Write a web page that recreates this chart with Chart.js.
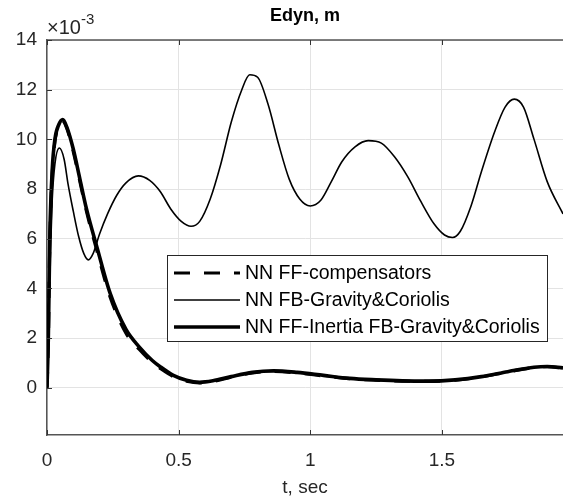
<!DOCTYPE html>
<html><head><meta charset="utf-8">
<script src="https://cdn.jsdelivr.net/npm/chart.js@4.4.1/dist/chart.umd.min.js"></script>
<style>html,body{margin:0;padding:0;background:#fff;}#wrap{width:563px;height:502px;position:relative;}</style>
</head><body><div id="wrap"><canvas id="c" width="563" height="502"></canvas></div>
<script>
// values in units of 1e-3 m
const tComp = [0,0.005,0.011,0.02,0.03,0.045,0.058,0.075,0.1,0.125,0.15,0.19,0.24,0.3,0.35,0.4,0.43,0.48,0.53,0.58,0.63,0.7,0.78,0.86,0.95,1.05,1.15,1.25,1.35,1.45,1.55,1.65,1.75,1.85,1.9,1.96];
const vComp = [0,1.8,6.0,8.6,9.9,10.55,10.75,10.45,9.5,8.3,7.1,5.5,3.65,2.2,1.55,1.02,0.78,0.45,0.27,0.2,0.26,0.43,0.6,0.66,0.6,0.48,0.37,0.31,0.27,0.26,0.31,0.44,0.64,0.82,0.85,0.79];

const tFB = [0,0.01,0.02,0.03,0.047,0.065,0.08,0.1,0.12,0.14,0.157,0.175,0.2,0.23,0.265,0.3,0.347,0.39,0.43,0.47,0.51,0.547,0.58,0.62,0.66,0.7,0.74,0.77,0.8,0.84,0.88,0.92,0.96,1.0,1.04,1.08,1.12,1.17,1.22,1.27,1.32,1.37,1.42,1.47,1.51,1.54,1.57,1.61,1.65,1.7,1.74,1.775,1.81,1.85,1.9,1.96];
const vFB = [0,4.5,7.6,9.0,9.65,9.2,8.2,7.1,6.1,5.4,5.15,5.4,6.2,7.0,7.75,8.25,8.53,8.35,7.9,7.2,6.7,6.5,6.7,7.6,9.0,10.7,12.0,12.6,12.5,11.4,9.8,8.4,7.6,7.32,7.55,8.3,9.1,9.7,9.95,9.85,9.3,8.5,7.5,6.6,6.15,6.05,6.3,7.3,8.7,10.3,11.3,11.62,11.3,10.0,8.3,7.0];

const tInertia = [0,0.005,0.011,0.02,0.03,0.045,0.06,0.075,0.1,0.125,0.15,0.19,0.24,0.3,0.35,0.4,0.43,0.48,0.53,0.58,0.63,0.7,0.78,0.86,0.95,1.05,1.15,1.25,1.35,1.45,1.55,1.65,1.75,1.85,1.9,1.96];
const vInertia = [0,2.0,6.2,8.8,10.0,10.6,10.8,10.5,9.6,8.4,7.2,5.65,3.8,2.35,1.65,1.1,0.85,0.5,0.3,0.22,0.28,0.45,0.62,0.68,0.62,0.5,0.38,0.32,0.28,0.27,0.32,0.45,0.65,0.83,0.86,0.8];

const xTicks = [0, 0.5, 1, 1.5];
const yTicks = [0, 2, 4, 6, 8, 10, 12, 14];
const labels = ['NN FF-compensators', 'NN FB-Gravity&Coriolis', 'NN FF-Inertia FB-Gravity&Coriolis'];

const pts = (t, v) => t.map((x, i) => ({x: x, y: v[i]}));
const FONT = '"Liberation Sans", Arial, Helvetica, sans-serif';
const TXT = '#262626';

const dsFB = {label: labels[1], data: pts(tFB, vFB), borderColor: '#000', borderWidth: 1.6, pointRadius: 0, cubicInterpolationMode: 'monotone', fill: false, order: 3};
const dsIn = {label: labels[2], data: pts(tInertia, vInertia), borderColor: '#000', borderWidth: 3.6, pointRadius: 0, cubicInterpolationMode: 'monotone', fill: false, order: 2};
const dsComp = {label: labels[0], data: pts(tComp, vComp), borderColor: '#000', borderWidth: 3.2, borderDash: [16, 14], pointRadius: 0, cubicInterpolationMode: 'monotone', fill: false, order: 1};

const decor = {
  id: 'decor',
  afterDraw(chart) {
    const ctx = chart.ctx, a = chart.chartArea;
    const xs = chart.scales.x, ys = chart.scales.y;
    ctx.save();
    ctx.strokeStyle = '#555'; ctx.lineWidth = 1.5;
    ctx.beginPath(); ctx.moveTo(a.left, a.top); ctx.lineTo(a.right, a.top); ctx.stroke();
    ctx.strokeStyle = '#333'; ctx.lineWidth = 1;
    xTicks.forEach(v => {
      const px = Math.round(xs.getPixelForValue(v)) + 0.5;
      ctx.beginPath(); ctx.moveTo(px, a.bottom); ctx.lineTo(px, a.bottom - 5); ctx.stroke();
      ctx.beginPath(); ctx.moveTo(px, a.top); ctx.lineTo(px, a.top + 5); ctx.stroke();
    });
    yTicks.forEach(v => {
      const py = Math.round(ys.getPixelForValue(v)) + 0.5;
      ctx.beginPath(); ctx.moveTo(a.left, py); ctx.lineTo(a.left + 5, py); ctx.stroke();
    });
    ctx.fillStyle = '#000';
    ctx.font = 'bold 18px ' + FONT;
    ctx.textAlign = 'center'; ctx.textBaseline = 'alphabetic';
    ctx.fillText('Edyn, m', (a.left + a.right) / 2, 21);
    ctx.fillStyle = TXT;
    ctx.textAlign = 'left';
    ctx.font = '20px ' + FONT;
    ctx.fillText('\u00d710', 47, 34);
    const w = ctx.measureText('\u00d710').width;
    ctx.font = '15px ' + FONT;
    ctx.fillText('-3', 47 + w, 24);
    const L = 167, T = 255, R = 547, B = 341;
    ctx.fillStyle = '#fff'; ctx.fillRect(L, T, R - L, B - T);
    ctx.strokeStyle = '#262626'; ctx.lineWidth = 1;
    ctx.strokeRect(L + 0.5, T + 0.5, R - L, B - T);
    const rows = [dsComp, dsFB, dsIn];
    const ycs = [273, 300, 327];
    rows.forEach((d, i) => {
      const y = ycs[i];
      ctx.strokeStyle = d.borderColor; ctx.lineWidth = d.borderWidth;
      ctx.setLineDash(d.borderDash || []);
      ctx.beginPath(); ctx.moveTo(174, y); ctx.lineTo(240, y); ctx.stroke();
      ctx.setLineDash([]);
      ctx.fillStyle = '#000';
      ctx.font = '19.5px ' + FONT;
      ctx.textAlign = 'left'; ctx.textBaseline = 'middle';
      ctx.fillText(d.label, 245, y + 1);
    });
    ctx.restore();
  }
};

new Chart(document.getElementById('c'), {
  type: 'line',
  data: {datasets: [dsFB, dsIn, dsComp]},
  options: {
    responsive: false, animation: false, devicePixelRatio: 1,
    layout: {padding: {top: 40, right: 0, left: 0, bottom: 0}},
    plugins: {legend: {display: false}, title: {display: false}, tooltip: {enabled: false}},
    scales: {
      x: {
        type: 'linear', min: 0, max: 1.96,
        afterBuildTicks: s => { s.ticks = xTicks.map(v => ({value: v})); },
        afterFit: s => { s.height = 67; },
        ticks: {color: TXT, font: {family: FONT, size: 19}, padding: 14, callback: v => String(v), maxRotation: 0},
        grid: {color: '#e3e3e3', lineWidth: 1, drawTicks: false},
        border: {display: true, color: '#555', width: 1.5},
        title: {display: true, text: 't, sec', color: TXT, font: {family: FONT, size: 19}, padding: {top: 0, bottom: 3}}
      },
      y: {
        type: 'linear', min: -1.9, max: 14,
        afterBuildTicks: s => { s.ticks = yTicks.map(v => ({value: v})); },
        afterFit: s => { s.width = 47; },
        ticks: {color: TXT, font: {family: FONT, size: 19}, padding: 10, callback: v => String(v)},
        grid: {color: '#e3e3e3', lineWidth: 1, drawTicks: false},
        border: {display: true, color: '#555', width: 1.5}
      }
    }
  },
  plugins: [decor]
});
</script></body></html>
